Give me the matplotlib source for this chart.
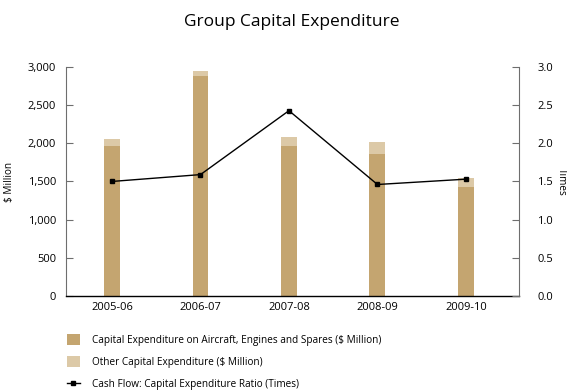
import matplotlib
matplotlib.use("Agg")
import matplotlib.pyplot as plt
import numpy as np

plt.rcParams["font.family"] = ["Open Sans", "DejaVu Sans"]

# ---------------------------------------------------------------------------
# Data
# ---------------------------------------------------------------------------
years = ["2005-06", "2006-07", "2007-08", "2008-09", "2009-10"]
aircraft_capex = [1970, 2890, 1960, 1865, 1430]   # $ million
other_capex = [90, 65, 130, 155, 115]             # $ million
capex_ratio = [1.50, 1.59, 2.43, 1.46, 1.53]      # times

DARK = "#c4a570"
LIGHT = "#dcc9a7"
SPINE_GREY = "#6e6e6e"

fig = plt.figure(figsize=(5.67, 3.91), dpi=100)
ax = fig.add_axes([66 / 567, 1 - 295.6 / 391, (519 - 66) / 567, (295.6 - 67.3) / 391])

x = np.arange(len(years))
w = 0.18
b1 = ax.bar(x, aircraft_capex, w, color=DARK, zorder=2)
b2 = ax.bar(x, other_capex, w, bottom=aircraft_capex, color=LIGHT, zorder=2)

ax.set_xlim(-0.52, 4.6)
ax.set_ylim(0, 3000)
ax.set_yticks(np.arange(0, 3001, 500))
ax.set_yticklabels([f"{v:,}" for v in range(0, 3001, 500)])
ax.set_xticks(x)
ax.set_xticklabels(years)
ax.tick_params(axis="x", length=0, pad=4.5, labelsize=8)
ax.tick_params(axis="y", direction="in", length=5, width=0.8, color=SPINE_GREY,
               pad=7, labelsize=8)
ax.set_ylabel("$ Million", fontsize=7.2)
ax.yaxis.set_label_coords(-0.112, 0.5)

for s in ("top", "right"):
    ax.spines[s].set_visible(False)
ax.spines["left"].set_color(SPINE_GREY)
ax.spines["left"].set_linewidth(0.8)
ax.spines["bottom"].set_color("black")
ax.spines["bottom"].set_linewidth(1.0)

# ratio on the secondary axis
ax2 = ax.twinx()
ax2.set_ylim(0, 3.0)
ax2.set_yticks(np.arange(0, 3.01, 0.5))
ax2.set_yticklabels([f"{v:.1f}" for v in np.arange(0, 3.01, 0.5)])
ax2.tick_params(axis="y", direction="in", length=5, width=0.8, color=SPINE_GREY,
                pad=13, labelsize=8)
for s in ("top", "left", "bottom"):
    ax2.spines[s].set_visible(False)
ax2.spines["right"].set_color(SPINE_GREY)
ax2.spines["right"].set_linewidth(0.8)
ax2.set_ylabel("Times", fontsize=7.2, rotation=-90, va="center")
ax2.yaxis.set_label_coords(1.094, 0.5)
(ln,) = ax2.plot(x, capex_ratio, color="black", lw=1.0, marker="s",
                 markersize=3.0, zorder=3)

fig.text(0.515, 0.945, "Group Capital Expenditure", ha="center", va="center",
         fontsize=12.5)

fig.legend([b1, b2, ln],
           ["Capital Expenditure on Aircraft, Engines and Spares ($ Million)",
            "Other Capital Expenditure ($ Million)",
            "Cash Flow: Capital Expenditure Ratio (Times)"],
           loc="upper left", bbox_to_anchor=(63 / 567, 1 - 330 / 391),
           frameon=False, fontsize=7.2, handlelength=1.25, handleheight=1.25,
           handletextpad=1.25, labelspacing=1.05, borderaxespad=0)

fig.savefig("out.png", dpi=100)
